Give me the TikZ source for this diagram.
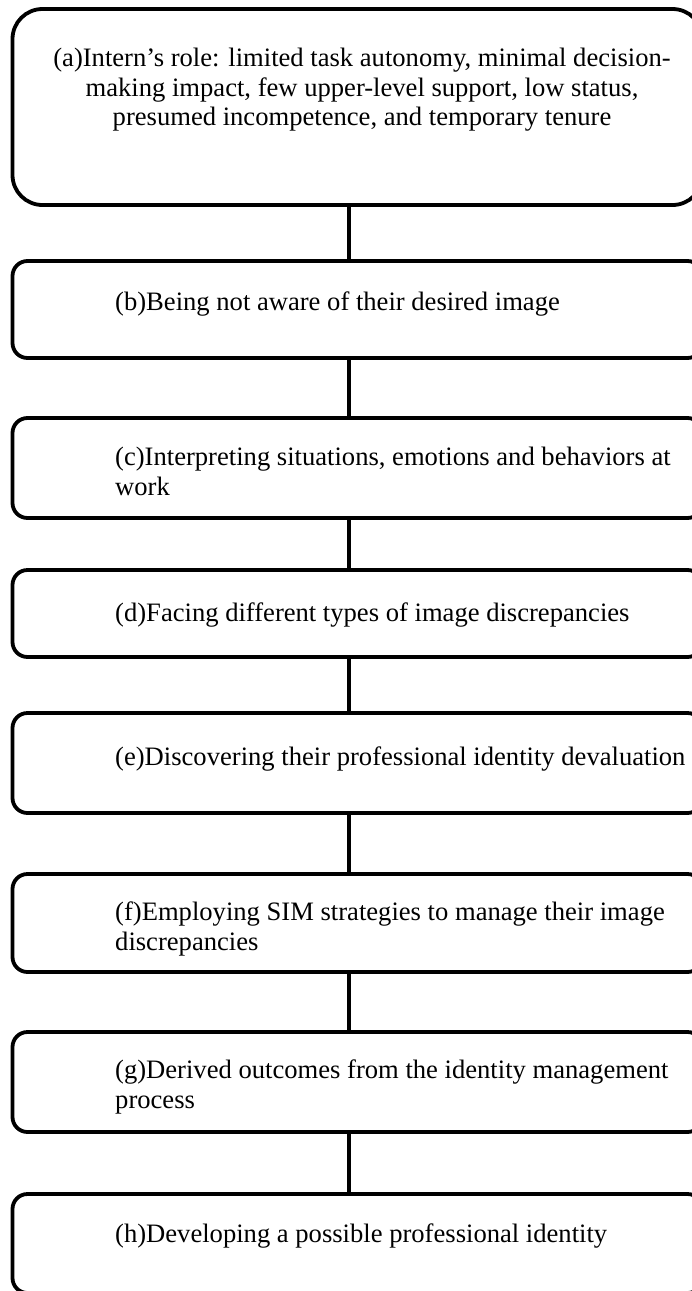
\documentclass[tikz,border=0pt]{standalone}
\usepackage{fontspec}
\setmainfont{Liberation Serif}
\begin{document}
\begin{tikzpicture}[x=1pt,y=-1pt,
  stage/.style={draw, line width=3.8pt, rounded corners=15pt, anchor=north west,
    minimum width=690pt, inner sep=0pt, outer sep=0pt},
  label/.style={anchor=north west, inner sep=0pt, align=left,
    font=\fontsize{26.6}{29.5}\selectfont},
  link/.style={line width=3.8pt}]
\useasboundingbox (0,0) rectangle (692,1291);

% stage boxes
\node[stage, rounded corners=30pt, minimum height=196pt] (a) at (12.5,9) {};
\node[stage, minimum height=97pt]  (b) at (12.5,261)  {};
\node[stage, minimum height=100pt] (c) at (12.5,418)  {};
\node[stage, minimum height=87pt]  (d) at (12.5,570)  {};
\node[stage, minimum height=100pt] (e) at (12.5,713)  {};
\node[stage, minimum height=98pt]  (f) at (12.5,874)  {};
\node[stage, minimum height=100pt] (g) at (12.5,1032) {};
\node[stage, minimum height=99pt]  (h) at (12.5,1194) {};

% texts
\node[label, anchor=north, align=center] (ta) at (362,46)
  {\strut(a)Intern’s role: limited task autonomy, minimal decision-\\
   \strut making impact, few upper-level support, low status,\\
   \strut presumed incompetence, and temporary tenure};
\node[label] (tb) at (115,289.5) {\strut(b)Being not aware of their desired image};
\node[label] (tc) at (115,445) {\strut(c)Interpreting situations, emotions and behaviors at\\\strut work};
\node[label] (td) at (115,601) {\strut(d)Facing different types of image discrepancies};
\node[label] (te) at (115,745) {\strut(e)Discovering their professional identity devaluation};
\node[label] (tf) at (115,900) {\strut(f)Employing SIM strategies to manage their image\\\strut discrepancies};
\node[label] (tg) at (115,1058) {\strut(g)Derived outcomes from the identity management\\\strut process};
\node[label] (th) at (115,1222) {\strut(h)Developing a possible professional identity};

% connectors
\foreach \u/\v in {a/b,b/c,c/d,d/e,e/f,f/g,g/h}
  \draw[link] ([xshift=-8.5pt]\u.south) -- ([xshift=-8.5pt]\v.north);
\end{tikzpicture}
\end{document}
